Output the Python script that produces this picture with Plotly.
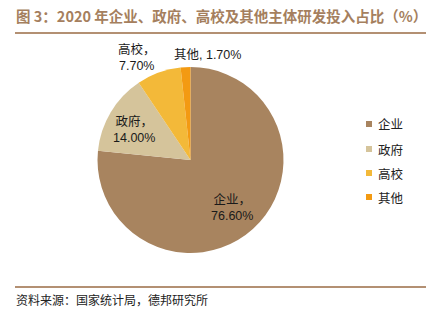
import plotly.graph_objects as go

categories = ["企业", "政府", "高校", "其他"]
values = [76.6, 14.0, 7.7, 1.7]
colors = ["#a8845f", "#d5c49b", "#f3b939", "#f39a12"]

title_text = "图 3：2020 年企业、政府、高校及其他主体研发投入占比（%）"
source_text = "资料来源：国家统计局，德邦研究所"

W, H = 434, 329
cx, cy, r = 190.5, 160, 93

fig = go.Figure()
fig.add_trace(go.Pie(
    labels=categories, values=values, sort=False, direction="clockwise",
    rotation=0, marker=dict(colors=colors, line=dict(width=0)),
    textinfo="none", hoverinfo="label+percent", showlegend=False,
    domain=dict(x=[(cx - r) / W, (cx + r) / W], y=[1 - (cy + r) / H, 1 - (cy - r) / H]),
))

lab_font = "Liberation Sans, Noto Sans CJK SC, sans-serif"
cjk_font = "Noto Sans CJK SC, sans-serif"


def px(x, y):
    return x / W, 1 - y / H


def note(x, y, text, font, size, color, xanchor="center", bold=False):
    ax, ay = px(x, y)
    fig.add_annotation(x=ax, y=ay, xref="paper", yref="paper", xanchor=xanchor,
                       yanchor="middle", text=("<b>" + text + "</b>") if bold else text,
                       showarrow=False, borderpad=0,
                       font=dict(family=font, size=size, color=color))


# data labels (pixel centre of each label block)
label_pos = [(232, 207), (134, 129), (137, 57), (207, 55)]
for i, (name, v) in enumerate(zip(categories, values)):
    x, y = label_pos[i]
    if i == 3:
        txt = f"{name}, {v:.2f}%"
    else:
        txt = f"{name}，<br>{v:.2f}%"
    note(x, y, txt, lab_font, 12.5, "#1a1a1a")

# legend (manual)
leg_y = [124, 149, 173, 197]
for name, c, y in zip(categories, colors, leg_y):
    x0, y0 = px(366, y - 3)
    x1, y1 = px(372, y + 3)
    fig.add_shape(type="rect", xref="paper", yref="paper", x0=x0, x1=x1, y0=y0, y1=y1,
                  fillcolor=c, line=dict(width=0))
    note(377, y, name, cjk_font, 12.5, "#222222", xanchor="left")

note(15, 15, title_text, cjk_font, 14.5, "#a57f5e", xanchor="left", bold=True)
note(15, 299, source_text, cjk_font, 12, "#222222", xanchor="left")

for yy in (33, 287):
    x0, y0 = px(15, yy)
    x1, _ = px(426, yy)
    fig.add_shape(type="line", xref="paper", yref="paper", x0=x0, x1=x1,
                  y0=y0, y1=y0, line=dict(color="#b39073", width=2))

fig.update_layout(
    width=W, height=H, margin=dict(l=0, r=0, t=0, b=0),
    paper_bgcolor="white", plot_bgcolor="white",
    showlegend=False,
)

fig.write_html("out.html")
